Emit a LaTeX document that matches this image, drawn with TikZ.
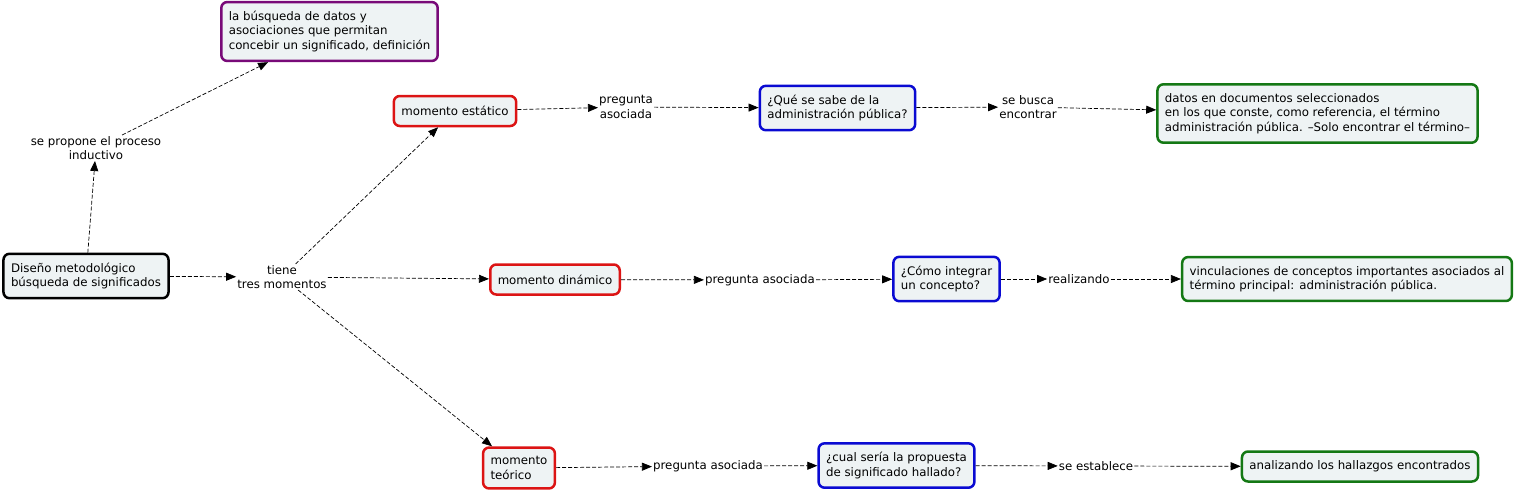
\documentclass[tikz,border=0pt]{standalone}
\usepackage{fontspec}
\setmainfont{DejaVu Sans}
\usetikzlibrary{arrows.meta, positioning}
\definecolor{boxfill}{RGB}{238,243,244}
\definecolor{redline}{RGB}{220,20,20}
\definecolor{blueline}{RGB}{10,10,210}
\definecolor{greenline}{RGB}{20,120,20}
\definecolor{purpleline}{RGB}{120,10,120}
\tikzset{concept/.style={draw, fill=boxfill, rounded corners=6pt, line width=2.5pt,
    align=left, inner xsep=7.5pt, inner ysep=9pt, minimum height=30pt,
    font=\fontsize{11.8}{14.5}\selectfont},
    root/.style={concept, draw=black},
    moment/.style={concept, draw=redline},
    question/.style={concept, draw=blueline},
    answer/.style={concept, draw=greenline},
    aim/.style={concept, draw=purpleline},
    linkword/.style={align=center, inner sep=1pt, font=\fontsize{11.8}{14.5}\selectfont},
    link/.style={draw, line width=0.7pt, dash pattern=on 4pt off 2pt, -{Triangle[length=10pt,width=8pt]}}}

\begin{document}
\begin{tikzpicture}[x=1pt, y=-1pt]
  \useasboundingbox (0,0) rectangle (1523,491);

  % Nodes
  \node[root] (DIS) at (86,276) {Diseño metodológico\\búsqueda de significados};
  \node[aim] (BUS) at (329.5,31.5) {la búsqueda de datos y\\asociaciones que permitan\\concebir un significado, definición};
  \node[linkword] (PRO) at (96,148) {se propone el proceso\\inductivo};
  \node[linkword] (TIE) at (282,277) {tiene\\tres momentos};

  \node[moment] (EST) at (455,111) {momento estático};
  \node[linkword] (PA1) at (626,107) {pregunta\\asociada};
  \node[question] (QUE) at (837.5,108) {¿Qué se sabe de la\\administración pública?};
  \node[linkword] (SBE) at (1028,107) {se busca\\encontrar};
  \node[answer] (DAT) at (1317.5,113.5) {datos en documentos seleccionados\\en los que conste, como referencia, el término\\administración pública. –Solo encontrar el término–};

  \node[moment] (DIN) at (555,279.5) {momento dinámico};
  \node[linkword] (PA2) at (760,280) {pregunta asociada};
  \node[question] (COM) at (946.5,279) {¿Cómo integrar\\un concepto?};
  \node[linkword] (REA) at (1079,279) {realizando};
  \node[answer] (VIN) at (1347,279) {vinculaciones de conceptos importantes asociados al\\término principal: administración pública.};

  \node[moment] (TEO) at (519,468) {momento\\teórico};
  \node[linkword] (PA3) at (708,466) {pregunta asociada};
  \node[question] (CUA) at (896.5,465.5) {¿cual sería la propuesta\\de significado hallado?};
  \node[linkword] (SES) at (1096,466) {se establece};
  \node[answer] (ANA) at (1360,466.5) {analizando los hallazgos encontrados};

  % Links
  \draw[link] (DIS) -- (PRO);
  \draw[link] (PRO) -- (BUS);
  \draw[link] (DIS) -- (TIE);
  \draw[link] (TIE) -- (EST);
  \draw[link] (TIE) -- (DIN);
  \draw[link] (TIE) -- (TEO);

  \draw[link] (EST) -- (PA1);
  \draw[link] (PA1) -- (QUE);
  \draw[link] (QUE) -- (SBE);
  \draw[link] (SBE) -- (DAT);

  \draw[link] (DIN) -- (PA2);
  \draw[link] (PA2) -- (COM);
  \draw[link] (COM) -- (REA);
  \draw[link] (REA) -- (VIN);

  \draw[link] (TEO) -- (PA3);
  \draw[link] (PA3) -- (CUA);
  \draw[link] (CUA) -- (SES);
  \draw[link] (SES) -- (ANA);

\end{tikzpicture}
\end{document}
